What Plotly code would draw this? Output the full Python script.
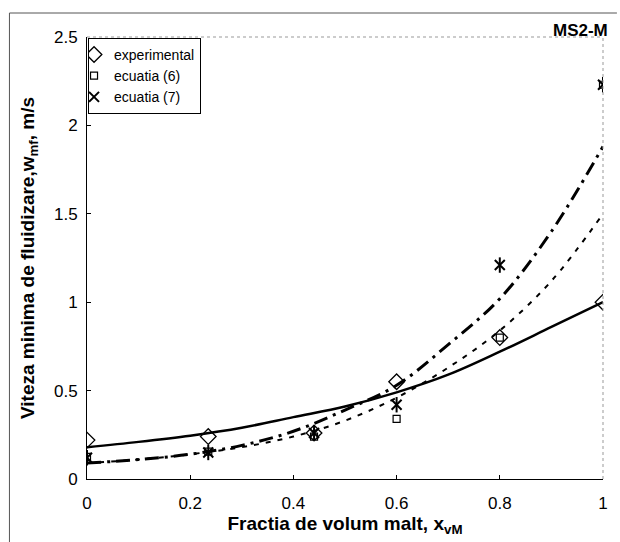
import plotly.graph_objects as go

# measured points
x_pts = [0.0, 0.235, 0.44, 0.6, 0.8, 1.0]
exp_vals = [0.22, 0.24, 0.26, 0.55, 0.80, 1.00]
ec6_vals = [0.125, 0.155, 0.24, 0.34, 0.80, 2.23]
ec7_vals = [0.12, 0.15, 0.26, 0.42, 1.21, 2.23]

# fitted curves
x_curve = [0.0, 0.1, 0.2, 0.3, 0.4, 0.5, 0.6, 0.7, 0.8, 0.9, 1.0]
solid_vals = [0.18, 0.21, 0.245, 0.29, 0.35, 0.41, 0.49, 0.59, 0.72, 0.86, 1.00]
dashdot_vals = [0.09, 0.11, 0.14, 0.19, 0.27, 0.39, 0.53, 0.76, 1.02, 1.40, 1.88]
dash_vals = [0.09, 0.11, 0.14, 0.18, 0.24, 0.33, 0.46, 0.63, 0.84, 1.12, 1.50]

x_ticks = [0, 0.2, 0.4, 0.6, 0.8, 1]
x_ticklabels = ["0", "0.2", "0.4", "0.6", "0.8", "1"]
y_ticks = [0, 0.5, 1, 1.5, 2, 2.5]
y_ticklabels = ["0", "0.5", "1", "1.5", "2", "2.5"]

FONT = "Liberation Sans, Arial, sans-serif"

fig = go.Figure()
fig.add_trace(go.Scatter(x=x_curve, y=solid_vals, mode="lines", showlegend=False,
                         line=dict(color="black", width=2.5, shape="spline")))
fig.add_trace(go.Scatter(x=x_curve, y=dashdot_vals, mode="lines", showlegend=False,
                         line=dict(color="black", width=3, dash="14px,6px,3px,6px", shape="spline")))
fig.add_trace(go.Scatter(x=x_curve, y=dash_vals, mode="lines", showlegend=False,
                         line=dict(color="black", width=2, dash="5px,7px", shape="spline")))

fig.add_trace(go.Scatter(x=x_pts, y=exp_vals, mode="markers", name="experimental",
                         marker=dict(symbol="diamond-open", size=12, color="black",
                                     line=dict(color="black", width=1.3))))
fig.add_trace(go.Scatter(x=x_pts, y=ec6_vals, mode="markers", name="ecuatia (6)",
                         marker=dict(symbol="square-open", size=7, color="black",
                                     line=dict(color="black", width=1.2))))
fig.add_trace(go.Scatter(x=x_pts, y=ec7_vals, mode="markers", name="ecuatia (7)",
                         legendgroup="e7",
                         marker=dict(symbol="x-thin-open", size=10, color="black",
                                     line=dict(color="black", width=2))))
fig.add_trace(go.Scatter(x=x_pts, y=ec7_vals, mode="markers", showlegend=False,
                         legendgroup="e7",
                         marker=dict(symbol="line-ns-open", size=11, color="black",
                                     line=dict(color="black", width=2))))

L, R, T, B = 87, 14, 37, 63
W, H = 620, 542
pw, ph = W - L - R, H - T - B

def px(xp):
    return (xp - L) / pw

def py(yp):
    return (H - B - yp) / ph

shapes = [
    dict(type="line", xref="paper", yref="paper", x0=px(9), x1=px(620), y0=py(13), y1=py(13),
         line=dict(color="#555", width=1)),
    dict(type="line", xref="paper", yref="paper", x0=px(9), x1=px(9), y0=py(13), y1=py(542),
         line=dict(color="#555", width=1)),
    dict(type="line", xref="paper", yref="paper", x0=0, x1=1, y0=1, y1=1,
         line=dict(color="#999", width=1, dash="dot")),
    dict(type="line", xref="paper", yref="paper", x0=1, x1=1, y0=0, y1=1,
         line=dict(color="#999", width=1, dash="dot")),
]

fig.update_layout(
    width=W, height=H,
    margin=dict(l=L, r=R, t=T, b=B),
    paper_bgcolor="white", plot_bgcolor="white",
    font=dict(family=FONT, color="black", size=15),
    shapes=shapes,
    showlegend=True,
    legend=dict(x=0.002, y=0.998, xanchor="left", yanchor="top",
                bordercolor="black", borderwidth=1, bgcolor="white",
                font=dict(family=FONT, size=14, color="black"),
                tracegroupgap=0, itemsizing="trace", itemwidth=30,
                indentation=-15),
    annotations=[
        dict(text="<b>MS2-M</b>", xref="paper", yref="paper", x=px(613), y=py(30),
             xanchor="right", yanchor="middle", showarrow=False,
             font=dict(family=FONT, size=17, color="black")),
    ],
    xaxis=dict(range=[0, 1], tickvals=x_ticks, ticktext=x_ticklabels,
               showgrid=False, zeroline=False, showline=True, linecolor="black", linewidth=1,
               ticks="inside", ticklen=4, tickcolor="black", ticklabelstandoff=9,
               tickfont=dict(family=FONT, size=17, color="black"),
               title=dict(text="<b>Fractia de volum malt, x<sub>vM</sub></b>",
                          font=dict(family=FONT, size=19, color="black"), standoff=2)),
    yaxis=dict(range=[0, 2.5], tickvals=y_ticks, ticktext=y_ticklabels,
               showgrid=False, zeroline=False, showline=True, linecolor="black", linewidth=1,
               ticks="inside", ticklen=4, tickcolor="black", ticklabelstandoff=5,
               tickfont=dict(family=FONT, size=17, color="black"),
               title=dict(text="<b>Viteza minima de fluidizare,w<sub>mf</sub>, m/s</b>",
                          font=dict(family=FONT, size=19, color="black"), standoff=14)),
)

fig.write_html("out.html")
